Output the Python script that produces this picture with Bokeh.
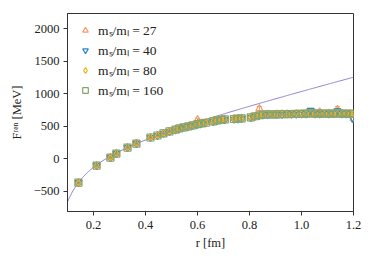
from bokeh.plotting import figure
from bokeh.models import (ColumnDataSource, Whisker, TeeHead, Legend, LegendItem,
                          FixedTicker, Range1d)
from bokeh.embed import file_html
from bokeh.resources import INLINE
import numpy as np

# ---------------- data ----------------
R = [0.142, 0.212, 0.265, 0.288, 0.331, 0.365, 0.419, 0.446, 0.469, 0.492, 0.515,
     0.530, 0.548, 0.565, 0.582, 0.600, 0.615, 0.632, 0.660, 0.676, 0.692, 0.705,
     0.740, 0.755, 0.770, 0.805, 0.822, 0.838, 0.852, 0.870, 0.888, 0.905, 0.925,
     0.945, 0.962, 0.980, 1.000, 1.018, 1.035, 1.052, 1.070, 1.088, 1.105, 1.122,
     1.138, 1.155, 1.172, 1.188, 1.200]

F27 = [-368, -106, 17, 78, 172, 234, 327, 358, 390, 420, 448, 470, 480, 500, 515, 600,
       545, 556, 578, 592, 598, 610, 615, 618, 625, 640, 650, 772, 680, 685, 678, 690,
       688, 690, 684, 695, 692, 698, 700, 705, 720, 690, 700, 695, 760, 700, 690, 695, 618]
E27 = [6, 6, 7, 7, 8, 8, 9, 10, 10, 11, 12, 12, 13, 14, 14, 20, 15, 16, 17, 18, 18, 19,
       20, 21, 22, 23, 24, 30, 25, 26, 27, 28, 28, 29, 30, 30, 31, 32, 33, 34, 35, 35,
       36, 37, 40, 38, 39, 40, 45]

F40 = [-372, -109, 14, 76, 169, 231, 324, 355, 386, 416, 443, 462, 484, 495, 510, 528,
       540, 550, 570, 586, 602, 600, 606, 612, 618, 632, 655, 665, 672, 676, 683, 680,
       682, 688, 685, 686, 688, 690, 743, 690, 688, 694, 690, 692, 735, 690, 688, 686, 606]
E40 = [5, 5, 6, 6, 7, 7, 8, 9, 9, 10, 11, 11, 12, 12, 13, 14, 14, 15, 16, 16, 17, 18,
       19, 19, 20, 21, 22, 23, 23, 24, 25, 26, 26, 27, 28, 28, 29, 30, 30, 31, 32, 32,
       33, 34, 34, 35, 36, 36, 40]

F80 = [-369, -107, 16, 78, 171, 233, 326, 357, 388, 419, 446, 466, 483, 498, 514, 531,
       544, 553, 574, 590, 601, 606, 611, 617, 622, 636, 651, 670, 678, 682, 680, 684,
       686, 685, 689, 690, 692, 693, 697, 695, 694, 690, 694, 695, 696, 694, 693, 691, 690]
E80 = [5, 5, 6, 6, 7, 8, 8, 9, 10, 10, 11, 12, 12, 13, 13, 14, 15, 15, 16, 17, 17, 18,
       19, 20, 20, 21, 22, 23, 24, 24, 25, 26, 27, 27, 28, 29, 29, 30, 31, 32, 32, 33,
       34, 34, 35, 36, 37, 37, 38]

F160 = [-370, -108, 15, 77, 170, 232, 325, 356, 387, 418, 445, 465, 482, 497, 512, 530,
        542, 552, 572, 588, 600, 604, 610, 615, 620, 635, 652, 668, 676, 680, 681, 682,
        684, 686, 687, 688, 690, 692, 695, 694, 693, 692, 692, 693, 694, 693, 692, 690, 688]
E160 = [5, 5, 5, 6, 6, 7, 7, 8, 8, 9, 10, 10, 11, 11, 12, 12, 13, 13, 14, 15, 15, 16,
        16, 17, 18, 18, 19, 20, 20, 21, 22, 22, 23, 24, 24, 25, 26, 26, 27, 28, 28, 29,
        30, 30, 31, 32, 32, 33, 34]

LABELS = ["mₛ/mₗ = 27", "mₛ/mₗ = 40", "mₛ/mₗ = 80", "mₛ/mₗ = 160"]

# Cornell-type fit parameters (MeV, MeV fm, MeV/fm)
FIT_C = 88.0
FIT_A = 85.8
FIT_SIGMA = 1031.0

X_TICKS = [0.2, 0.4, 0.6, 0.8, 1.0, 1.2]
Y_TICKS = [-500, 0, 500, 1000, 1500, 2000]

# ---------------- figure ----------------
FONT = "Liberation Serif"
p = figure(width=366, height=254, x_range=Range1d(0.1, 1.2), y_range=Range1d(-815, 2235),
           output_backend="svg", toolbar_location=None,
           min_border_left=67, min_border_right=13, min_border_top=13, min_border_bottom=43)
p.grid.visible = False
p.outline_line_color = "#333333"
p.outline_line_width = 1
p.background_fill_color = "white"
p.border_fill_color = "white"

for ax in (p.xaxis[0], p.yaxis[0]):
    ax.major_tick_out = 4
    ax.major_tick_in = 0
    ax.minor_tick_out = 0
    ax.minor_tick_in = 0
    ax.axis_line_color = "#333333"
    ax.major_tick_line_color = "#333333"
    ax.major_label_text_font = FONT
    ax.major_label_text_font_size = "12.5px"
    ax.major_label_text_color = "#222222"
    ax.axis_label_text_font = FONT
    ax.axis_label_text_font_size = "12.5px"
    ax.axis_label_text_font_style = "normal"
    ax.axis_label_text_color = "#222222"

p.xaxis.ticker = FixedTicker(ticks=X_TICKS)
p.xaxis.major_label_overrides = {t: f"{t:.1f}" for t in X_TICKS}
p.yaxis.ticker = FixedTicker(ticks=Y_TICKS)
p.yaxis.major_label_overrides = {t: (f"−{abs(t)}" if t < 0 else str(t)) for t in Y_TICKS}
p.xaxis.axis_label = "r [fm]"
p.yaxis.axis_label = "Fʳᵉⁿ [MeV]"
p.xaxis.axis_label_standoff = 4
p.yaxis.axis_label_standoff = 7
p.xaxis.major_label_standoff = 5
p.yaxis.major_label_standoff = 4

# fit curve
rr = np.linspace(0.1, 1.2, 300)
ff = FIT_C - FIT_A / rr + FIT_SIGMA * rr
p.line(rr, ff, line_color="#8a7fd0", line_width=1)

series = [
    (F27, E27, "#fa9a6a", "triangle"),
    (F40, E40, "#2a88c6", "inverted_triangle"),
    (F80, E80, "#f0b21c", "diamond"),
    (F160, E160, "#86a46e", "square"),
]

items = []
for (F, E, col, mk), lab in zip(series, LABELS):
    F = np.array(F, float)
    E = np.array(E, float)
    src = ColumnDataSource(dict(r=R, f=F, up=F + E, lo=F - E))
    w = Whisker(source=src, base="r", upper="up", lower="lo", line_color=col,
                line_width=1,
                upper_head=TeeHead(size=5, line_color=col, line_width=1),
                lower_head=TeeHead(size=5, line_color=col, line_width=1))
    p.add_layout(w)
    rnd = p.scatter("r", "f", source=src, marker=mk, size=7, line_color=col,
                    fill_color=None, line_width=1.2)
    items.append(LegendItem(label=lab, renderers=[rnd]))

leg = Legend(items=items, location=(8, 109), border_line_alpha=0,
             background_fill_alpha=0, label_text_font=FONT,
             label_text_font_size="13.5px", label_text_color="#222222",
             glyph_width=14, glyph_height=16, label_height=16, spacing=2,
             padding=3, margin=0, label_standoff=6)
p.add_layout(leg)

open("out.html", "w").write(file_html(p, INLINE))
